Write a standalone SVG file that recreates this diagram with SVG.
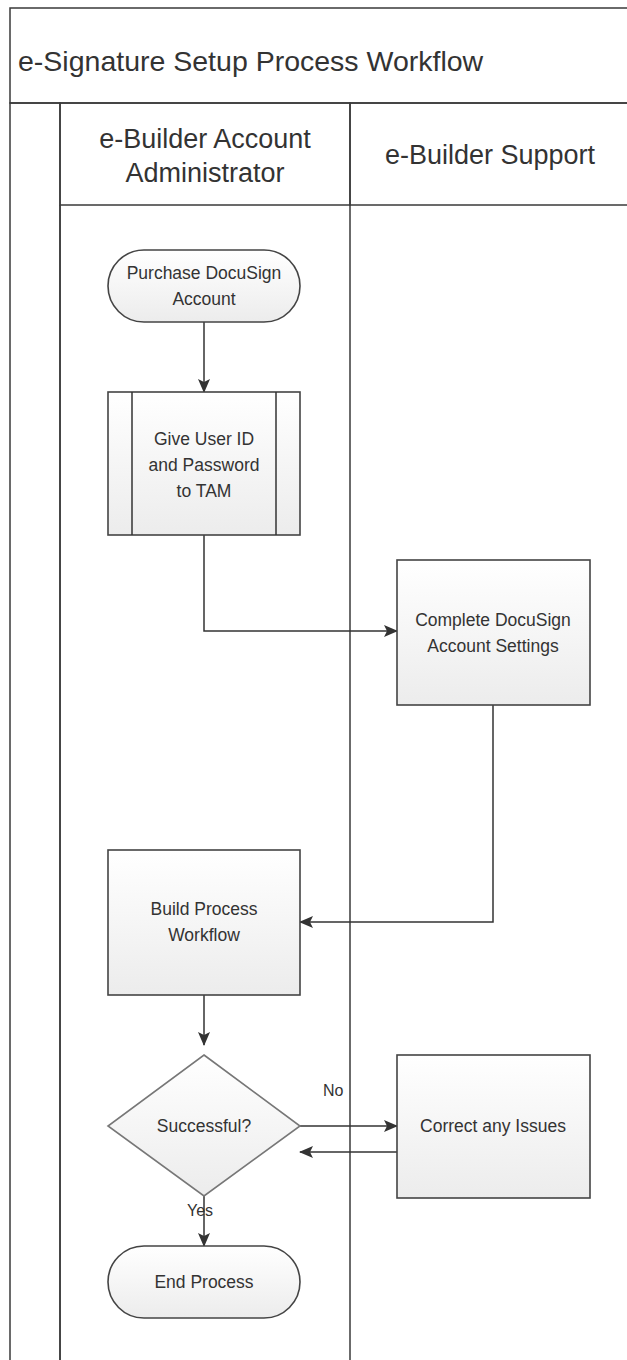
<svg xmlns="http://www.w3.org/2000/svg" width="627" height="1360" viewBox="0 0 627 1360">
<style>
.frame{fill:none;stroke:#3a3a3a;stroke-width:1.5}
.node{fill:url(#ng);stroke:#444;stroke-width:1.6}
.conn{fill:none;stroke:#333;stroke-width:1.5}
.t{font-family:"Liberation Sans",Arial,sans-serif;fill:#333;text-anchor:middle}
.nt{font-size:17.5px}
.ht{font-size:27px}
.lbl{font-size:16px;fill:#333;font-family:"Liberation Sans",Arial,sans-serif}
</style>
<defs>
<linearGradient id="ng" x1="0" y1="0" x2="0" y2="1">
<stop offset="0" stop-color="#ffffff"/>
<stop offset="1" stop-color="#ececec"/>
</linearGradient>
<linearGradient id="hg" x1="0" y1="0" x2="0" y2="1">
<stop offset="0" stop-color="#ffffff"/>
<stop offset="1" stop-color="#efefef"/>
</linearGradient>
<linearGradient id="sg" x1="0" y1="0" x2="1" y2="0">
<stop offset="0" stop-color="#ffffff"/>
<stop offset="1" stop-color="#e8e8e8"/>
</linearGradient>
<marker id="ah" markerWidth="14" markerHeight="12" refX="13" refY="6" orient="auto" markerUnits="userSpaceOnUse">
<path d="M0,0 L14,6 L0,12 L3,6 Z" fill="#333"/>
</marker>
</defs>
<rect width="627" height="1360" fill="#ffffff"/>
<g id="pool">
<rect x="10" y="8" width="640" height="95" fill="url(#hg)" class="frame"/>
<text x="18" y="71" style="font-family:'Liberation Sans',Arial,sans-serif;font-size:28.5px;fill:#333">e-Signature Setup Process Workflow</text>
<rect x="10" y="103" width="50" height="1270" fill="url(#sg)" class="frame"/>
<rect x="60" y="103" width="290" height="102" fill="url(#hg)" class="frame"/>
<rect x="350" y="103" width="300" height="102" fill="url(#hg)" class="frame"/>
<line x1="60" y1="205" x2="60" y2="1365" class="frame"/>
<line x1="350" y1="205" x2="350" y2="1365" class="frame"/>
</g>
<g id="lane-admin">
<text class="t ht" x="205" y="148">e-Builder Account</text>
<text class="t ht" x="205" y="182">Administrator</text>
</g>
<g id="lane-support">
<text class="t ht" x="490" y="164">e-Builder Support</text>
</g>
<g id="connectors">
<line x1="204" y1="322" x2="204" y2="392" class="conn" marker-end="url(#ah)"/>
<polyline points="204,535 204,631 397,631" class="conn" marker-end="url(#ah)"/>
<polyline points="493,705 493,922 300,922" class="conn" marker-end="url(#ah)"/>
<line x1="204" y1="995" x2="204" y2="1045" class="conn" marker-end="url(#ah)"/>
<line x1="300" y1="1126" x2="397" y2="1126" class="conn" marker-end="url(#ah)"/>
<line x1="397" y1="1152" x2="300" y2="1152" class="conn" marker-end="url(#ah)"/>
<line x1="204" y1="1196" x2="204" y2="1246" class="conn" marker-end="url(#ah)"/>
<text class="lbl" x="323" y="1096">No</text>
<text class="lbl" x="187" y="1216">Yes</text>
</g>
<g id="n-purchase">
<rect x="108" y="250" width="192" height="72" rx="36" ry="36" class="node"/>
<text class="t nt" x="204" y="279">Purchase DocuSign</text>
<text class="t nt" x="204" y="305">Account</text>
</g>
<g id="n-give">
<rect x="108" y="392" width="192" height="143" class="node"/>
<line x1="132" y1="392" x2="132" y2="535" class="conn"/>
<line x1="276" y1="392" x2="276" y2="535" class="conn"/>
<text class="t nt" x="204" y="445">Give User ID</text>
<text class="t nt" x="204" y="471">and Password</text>
<text class="t nt" x="204" y="497">to TAM</text>
</g>
<g id="n-complete">
<rect x="397" y="560" width="193" height="145" class="node"/>
<text class="t nt" x="493" y="626">Complete DocuSign</text>
<text class="t nt" x="493" y="652">Account Settings</text>
</g>
<g id="n-build">
<rect x="108" y="850" width="192" height="145" class="node"/>
<text class="t nt" x="204" y="915">Build Process</text>
<text class="t nt" x="204" y="941">Workflow</text>
</g>
<g id="n-success">
<polygon points="204,1055 300,1126 204,1196 108,1126" fill="url(#ng)" stroke="#777" stroke-width="1.6"/>
<text class="t nt" x="204" y="1132">Successful?</text>
</g>
<g id="n-correct">
<rect x="397" y="1055" width="193" height="143" class="node"/>
<text class="t nt" x="493" y="1132">Correct any Issues</text>
</g>
<g id="n-end">
<rect x="108" y="1246" width="192" height="72" rx="36" ry="36" class="node"/>
<text class="t nt" x="204" y="1288">End Process</text>
</g>
</svg>
